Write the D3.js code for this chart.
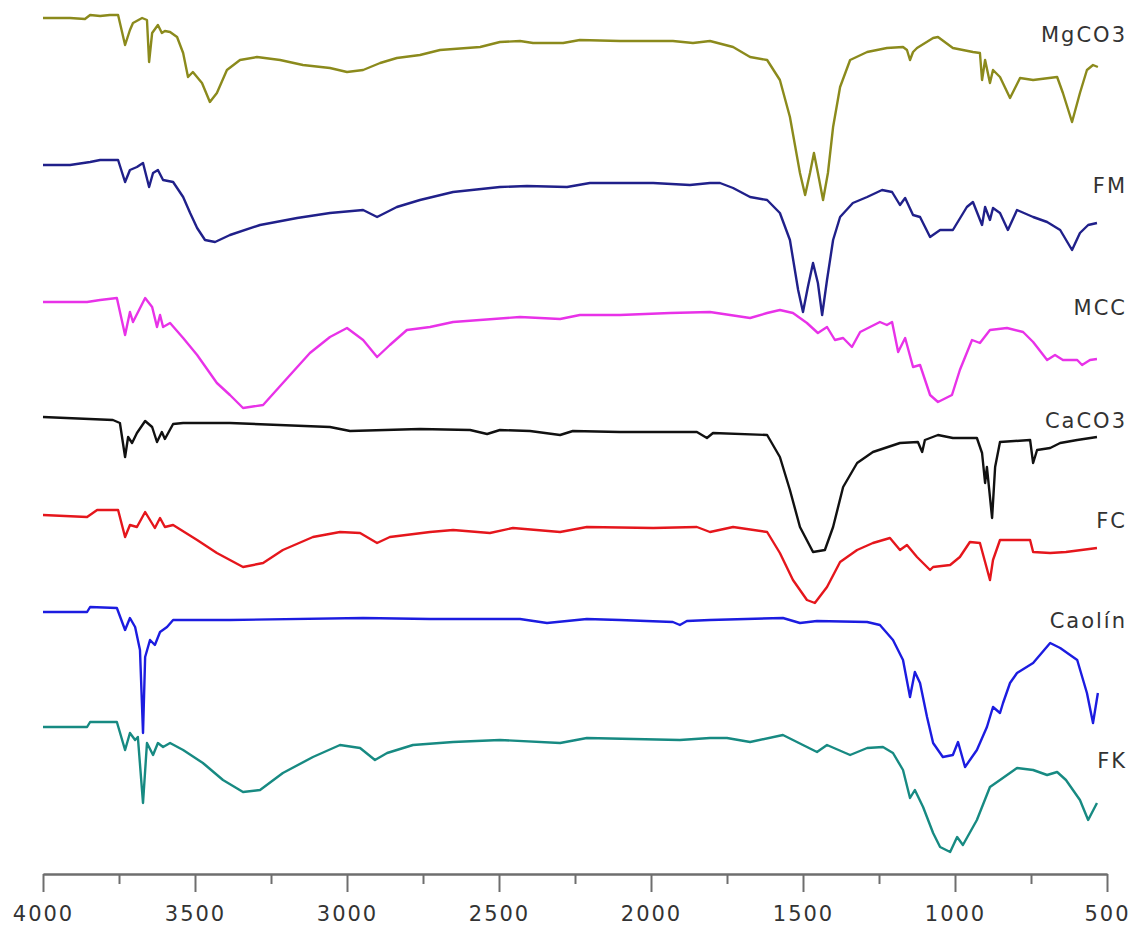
<!DOCTYPE html>
<html>
<head>
<meta charset="utf-8">
<script src="https://d3js.org/d3.v7.min.js"></script>
<style>
  body { margin: 0; background: #fff; }
  text { font-family: "DejaVu Sans", Verdana, sans-serif; }
</style>
</head>
<body>
<script>
// wavenumber (cm-1), offset transmittance (a.u.)
let mgco3 = [[4000,85.6],[3911,85.6],[3862,85.5],[3845,85.9],[3812,85.8],[3780,85.9],[3753,85.9],[3730,82.9],[3714,84.4],[3704,85.1],[3674,85.6],[3658,85.4],[3651,81.2],[3641,84.1],[3622,84.9],[3609,84.1],[3599,84.3],[3582,84.2],[3559,83.7],[3539,82.1],[3523,79.7],[3507,80.2],[3477,79.1],[3451,77.2],[3428,78.1],[3395,80.4],[3352,81.4],[3296,81.7],[3220,81.4],[3145,80.9],[3056,80.6],[3000,80.2],[2947,80.4],[2891,81.1],[2836,81.6],[2760,81.9],[2694,82.4],[2562,82.7],[2497,83.2],[2431,83.3],[2388,83.1],[2289,83.1],[2234,83.4],[2102,83.3],[1928,83.3],[1862,83.1],[1806,83.3],[1730,82.7],[1674,81.7],[1618,81.4],[1576,79.4],[1543,75.7],[1510,70.1],[1493,67.9],[1477,70.1],[1464,72.1],[1451,70.1],[1434,67.4],[1418,70.1],[1401,74.7],[1378,78.7],[1345,81.4],[1289,82.2],[1224,82.6],[1171,82.7],[1158,82.4],[1148,81.4],[1138,82.2],[1125,82.6],[1072,83.6],[1056,83.7],[1007,82.6],[941,82.2],[918,82.1],[911,79.4],[901,81.4],[885,79.1],[875,80.4],[852,79.7],[819,77.6],[786,79.6],[743,79.4],[664,79.7],[645,78.1],[615,75.2],[589,78.1],[566,80.4],[546,80.9],[530,80.7]];

let fm = [[4000,70.9],[3911,70.9],[3845,71.2],[3812,71.4],[3753,71.4],[3730,69.2],[3714,70.4],[3691,70.7],[3671,71.1],[3651,68.7],[3638,70.1],[3622,70.4],[3605,69.4],[3572,69.2],[3539,67.7],[3516,66.1],[3493,64.6],[3467,63.4],[3434,63.2],[3385,63.9],[3286,64.9],[3164,65.6],[3056,66.1],[2947,66.4],[2901,65.7],[2836,66.7],[2760,67.4],[2651,68.2],[2497,68.7],[2408,68.8],[2276,68.7],[2201,69.1],[1993,69.1],[1872,68.9],[1806,69.1],[1773,69.1],[1730,68.6],[1674,67.7],[1618,67.4],[1576,66.1],[1543,63.4],[1516,58.4],[1500,56.2],[1484,58.7],[1467,61.1],[1451,59.1],[1437,55.9],[1421,59.4],[1401,63.4],[1378,65.7],[1336,67.1],[1289,67.7],[1240,68.4],[1207,68.2],[1181,66.9],[1164,67.6],[1138,65.9],[1115,65.7],[1082,63.7],[1049,64.4],[1007,64.4],[961,66.7],[941,67.2],[911,64.9],[901,66.7],[885,65.4],[875,66.6],[852,66.1],[826,64.4],[796,66.4],[743,65.7],[697,65.2],[654,64.4],[615,62.4],[589,64.1],[562,64.9],[533,65.1]];

let mcc = [[4000,57.2],[3855,57.2],[3812,57.4],[3757,57.6],[3730,53.9],[3714,56.2],[3704,55.2],[3664,57.6],[3641,56.7],[3625,54.7],[3615,55.9],[3605,54.7],[3582,55.1],[3539,53.6],[3493,51.9],[3428,49.1],[3385,47.9],[3342,46.6],[3276,46.9],[3211,49.1],[3122,52.1],[3056,53.7],[3000,54.6],[2947,53.4],[2901,51.7],[2859,52.9],[2803,54.4],[2727,54.7],[2651,55.2],[2431,55.7],[2299,55.5],[2234,55.9],[2102,55.9],[1937,56.1],[1806,56.2],[1674,55.6],[1618,56.1],[1576,56.4],[1533,56.1],[1487,55.1],[1451,54.1],[1421,54.7],[1395,53.4],[1368,53.6],[1339,52.7],[1312,54.2],[1247,55.2],[1224,54.9],[1207,55.2],[1187,52.2],[1164,53.6],[1138,50.7],[1115,50.9],[1082,47.9],[1056,47.2],[1010,47.9],[984,50.4],[944,53.4],[918,53.1],[885,54.4],[829,54.6],[776,54.2],[743,53.2],[697,51.4],[671,51.9],[645,51.4],[598,51.4],[582,50.9],[556,51.4],[533,51.5]];

let caco3 = [[4000,45.7],[3770,45.4],[3747,45.1],[3730,41.7],[3720,43.7],[3707,43.1],[3691,44.1],[3664,45.3],[3641,44.7],[3625,43.2],[3609,44.2],[3599,43.5],[3572,45.0],[3539,45.1],[3385,45.1],[3056,44.7],[2990,44.3],[2760,44.5],[2595,44.4],[2539,44.0],[2497,44.4],[2398,44.3],[2299,43.9],[2257,44.3],[2102,44.2],[1849,44.2],[1816,43.6],[1796,44.1],[1618,43.9],[1576,41.7],[1543,38.4],[1510,34.7],[1467,32.2],[1428,32.4],[1401,34.7],[1368,38.7],[1322,41.1],[1270,42.2],[1181,43.1],[1122,43.2],[1108,42.2],[1099,43.4],[1056,43.9],[1007,43.6],[928,43.6],[911,42.1],[901,39.1],[895,40.7],[878,35.6],[868,40.7],[852,43.2],[753,43.4],[743,41.1],[730,42.4],[687,42.6],[654,43.1],[598,43.4],[533,43.7]];

let fc = [[4000,35.9],[3855,35.7],[3822,36.4],[3753,36.4],[3730,33.7],[3714,34.9],[3691,34.7],[3664,36.2],[3632,34.6],[3615,35.6],[3599,34.7],[3572,34.9],[3493,33.4],[3428,32.1],[3342,30.7],[3276,31.1],[3211,32.4],[3112,33.7],[3023,34.2],[2957,34.1],[2901,33.1],[2859,33.7],[2727,34.2],[2651,34.4],[2530,34.1],[2454,34.6],[2299,34.2],[2211,34.7],[1993,34.6],[1849,34.7],[1806,34.2],[1730,34.7],[1618,34.2],[1576,32.1],[1533,29.4],[1487,27.4],[1461,27.1],[1421,28.7],[1378,31.2],[1322,32.4],[1270,33.1],[1214,33.6],[1181,32.4],[1158,32.9],[1125,31.7],[1082,30.4],[1072,30.7],[1016,30.9],[984,31.7],[951,33.2],[918,33.1],[901,31.2],[885,29.4],[875,31.4],[852,33.4],[753,33.4],[743,32.2],[687,32.1],[635,32.2],[533,32.6]];

let caolin = [[4000,26.2],[3855,26.2],[3845,26.7],[3757,26.6],[3730,24.4],[3714,25.6],[3697,24.7],[3681,22.4],[3671,14.1],[3664,21.7],[3648,23.4],[3632,22.9],[3615,24.2],[3592,24.7],[3572,25.4],[3385,25.4],[2947,25.6],[2727,25.5],[2431,25.5],[2342,25.1],[2211,25.5],[2102,25.4],[1928,25.2],[1905,24.9],[1882,25.3],[1806,25.4],[1566,25.6],[1510,25.1],[1454,25.3],[1289,25.2],[1247,24.9],[1204,23.4],[1171,21.4],[1148,17.7],[1132,20.2],[1115,19.1],[1092,15.7],[1072,13.1],[1040,11.7],[1007,11.9],[990,13.2],[967,10.7],[928,12.4],[895,14.7],[875,16.7],[852,16.1],[842,17.1],[819,19.1],[796,20.1],[743,21.1],[687,23.1],[654,22.6],[598,21.4],[566,18.1],[546,15.1],[530,18.1]];

let fk = [[4000,14.7],[3855,14.7],[3845,15.2],[3757,15.2],[3730,12.4],[3714,14.1],[3697,13.4],[3688,13.7],[3671,7.1],[3658,13.1],[3638,11.9],[3622,13.1],[3605,12.7],[3582,13.1],[3539,12.4],[3474,11.1],[3408,9.4],[3342,8.2],[3286,8.4],[3211,10.1],[3112,11.7],[3023,12.9],[2957,12.6],[2908,11.4],[2868,12.1],[2783,12.9],[2651,13.2],[2497,13.4],[2299,13.1],[2211,13.6],[1905,13.4],[1806,13.6],[1750,13.6],[1674,13.2],[1566,13.9],[1454,12.2],[1421,12.9],[1345,11.9],[1289,12.6],[1237,12.7],[1204,12.1],[1171,10.4],[1148,7.6],[1132,8.4],[1105,6.7],[1072,4.1],[1049,2.7],[1016,2.2],[993,3.7],[974,2.9],[928,5.4],[885,8.7],[852,9.4],[796,10.6],[743,10.4],[697,9.9],[664,10.2],[635,9.4],[589,7.4],[562,5.4],[533,7.1]];

let seriesNames = ['MgCO3', 'FM', 'MCC', 'CaCO3', 'FC', 'Caolín', 'FK'];
let seriesData = [mgco3, fm, mcc, caco3, fc, caolin, fk];
let seriesColors = ['#8b8a1c', '#20208a', '#e832e8', '#111111', '#e5161c', '#1c1ce0', '#178a82'];
let labelLevels = [83.2, 68.1, 55.9, 44.6, 34.6, 24.6, 10.6];

let majorTicks = [4000, 3500, 3000, 2500, 2000, 1500, 1000, 500];
let minorTicks = [3750, 3250, 2750, 2250, 1750, 1250, 750];

let width = 1131,
    height = 928;

let margin = {
  top: 0,
  bottom: 54,
  left: 43,
  right: 24
};

let svg = d3
  .select('body')
  .append('svg')
    .attr('width', width)
    .attr('height', height)
    .style('background', '#ffffff');

let xScale = d3.scaleLinear()
  .domain([4000, 500])
  .range([margin.left, width - margin.right]);

let yScale = d3.scaleLinear()
  .domain([0, 87.4])
  .range([height - margin.bottom, margin.top]);

// minor ticks first, then major ticks with labels
let minorAxis = svg
  .append('g')
    .attr('transform', `translate(0,${height - margin.bottom})`)
    .call(d3.axisBottom(xScale).tickValues(minorTicks).tickSize(10).tickSizeOuter(0).tickFormat(''));

let xAxis = svg
  .append('g')
    .attr('transform', `translate(0,${height - margin.bottom})`)
    .call(d3.axisBottom(xScale).tickValues(majorTicks).tickSize(18).tickSizeOuter(0).tickPadding(14).tickFormat(d3.format('d')));

svg.selectAll('.domain')
  .attr('stroke', '#6e6e6e')
  .attr('stroke-width', 2);

svg.selectAll('.tick line')
  .attr('stroke', '#6e6e6e')
  .attr('stroke-width', 2);

xAxis.selectAll('.tick text')
  .attr('fill', '#333')
  .style('font-size', '21px')
  .style('letter-spacing', '2px');

let line = d3.line()
  .x(d => xScale(d[0]))
  .y(d => yScale(d[1]));

svg.selectAll('.spectrum')
  .data(seriesData)
  .enter()
  .append('path')
    .attr('class', 'spectrum')
    .attr('d', line)
    .attr('fill', 'none')
    .attr('stroke', (d, i) => seriesColors[i])
    .attr('stroke-width', 2.4)
    .attr('stroke-linejoin', 'round');

svg.selectAll('.series-label')
  .data(seriesNames)
  .enter()
  .append('text')
    .attr('class', 'series-label')
    .attr('x', width - 4)
    .attr('y', (d, i) => yScale(labelLevels[i]))
    .attr('text-anchor', 'end')
    .attr('fill', '#333')
    .style('font-size', '21px')
    .style('letter-spacing', '2px')
    .text(d => d);
</script>
</body>
</html>
